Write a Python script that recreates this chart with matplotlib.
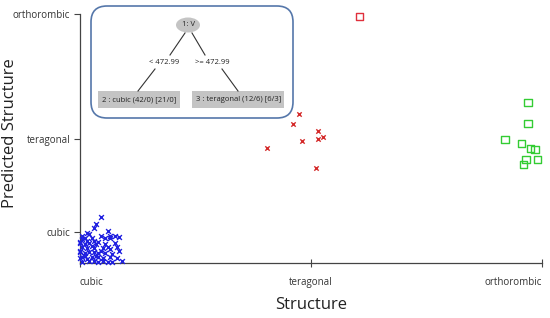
import matplotlib.pyplot as plt
from matplotlib.patches import FancyBboxPatch, Ellipse, Rectangle

plt.rcParams['font.family'] = ['Open Sans', 'DejaVu Sans']

# class positions on both axes
x_ticks = [0, 1, 2]
x_labels = ['cubic', 'teragonal', 'orthorombic']
y_ticks = [0.25, 1, 2]
y_labels = ['cubic', 'teragonal', 'orthorombic']

# cubic structures (predicted cubic)
cubic_x = [0.09, 0.07, 0.06, 0.12, 0.03, 0.01, 0.04, 0.09, 0.13, 0.15, 0.17, 0.11, 0.13,
           0.01, 0.03, 0.06, 0.08, 0.00, 0.04, 0.07, 0.11, 0.15, 0.01, 0.03, 0.06, 0.10,
           0.13, 0.17, 0.00, 0.04, 0.08, 0.11, 0.14, 0.02, 0.05, 0.08, 0.13, 0.16, 0.00,
           0.04, 0.06, 0.10, 0.12, 0.14, 0.18, 0.01, 0.08, 0.02, 0.00, 0.00, 0.02, 0.05,
           0.09, 0.03, 0.07, 0.10, 0.02, 0.05, 0.12, 0.01, 0.06, 0.16]
cubic_y = [0.37, 0.31, 0.28, 0.26, 0.24, 0.22, 0.23, 0.22, 0.22, 0.22, 0.21, 0.20, 0.20,
           0.19, 0.18, 0.18, 0.17, 0.16, 0.16, 0.15, 0.15, 0.16, 0.13, 0.12, 0.12, 0.12,
           0.11, 0.10, 0.09, 0.09, 0.08, 0.08, 0.07, 0.06, 0.05, 0.05, 0.05, 0.04, 0.04,
           0.02, 0.02, 0.02, 0.01, 0.01, 0.02, 0.01, 0.01, 0.08, 0.10, 0.17, 0.20, 0.14,
           0.10, 0.03, 0.06, 0.04, 0.15, 0.20, 0.13, 0.05, 0.09, 0.13]

# teragonal structures
tera_x = [0.95, 0.92, 1.03, 0.96, 1.03, 1.05, 0.81, 1.02]
tera_y = [1.20, 1.12, 1.06, 0.98, 1.00, 1.01, 0.92, 0.76]
tera_sq_x = [1.21]
tera_sq_y = [1.98]

# orthorombic structures
ortho_x = [1.94, 1.94, 1.84, 1.91, 1.95, 1.97, 1.98, 1.93, 1.92]
ortho_y = [1.29, 1.12, 0.99, 0.96, 0.92, 0.91, 0.83, 0.83, 0.79]

fig = plt.figure(figsize=(5.5, 3.18), dpi=100)
ax = fig.add_axes([80/550, 55/318, 462/550, 249/318])

ax.scatter(cubic_x, cubic_y, marker='x', s=12, color='#1f1fe0', linewidths=1.0, clip_on=False, zorder=3)
ax.scatter(tera_x, tera_y, marker='x', s=10, color='#d42a2a', linewidths=1.0, clip_on=False, zorder=3)
ax.scatter(tera_sq_x, tera_sq_y, marker='s', s=28, facecolors='none', edgecolors='#e0303c',
           linewidths=1.0, clip_on=False, zorder=3)
ax.scatter(ortho_x, ortho_y, marker='s', s=28, facecolors='none', edgecolors='#33cc33',
           linewidths=1.0, clip_on=False, zorder=3)

ax.set_xlim(0, 2)
ax.set_ylim(0, 2)
ax.set_xticks(x_ticks)
ax.set_xticklabels(x_labels, fontsize=7, color='#333333')
ax.set_yticks(y_ticks)
ax.set_yticklabels(y_labels, fontsize=7, color='#333333')
xt = ax.get_xticklabels()
xt[0].set_ha('left')
xt[-1].set_ha('right')
ax.tick_params(axis='x', direction='inout', length=6, width=0.8, color='#444444', pad=7)
ax.tick_params(axis='y', direction='out', length=4, width=0.8, color='#444444', pad=3)
for s in ['top', 'right']:
    ax.spines[s].set_visible(False)
for s in ['left', 'bottom']:
    ax.spines[s].set_color('#444444')
    ax.spines[s].set_linewidth(0.9)
ax.set_xlabel('Structure', fontsize=12, color='#222222')
ax.set_ylabel('Predicted Structure', fontsize=12, color='#222222')
ax.xaxis.set_label_coords(0.5, -0.135)
ax.yaxis.set_label_coords(-0.135, 0.52)

# decision tree inset, drawn in pixel coordinates
ov = fig.add_axes([0, 0, 1, 1], zorder=5)
ov.set_xlim(0, 550)
ov.set_ylim(318, 0)
ov.axis('off')
ov.patch.set_alpha(0)

box = FancyBboxPatch((91, 6), 202, 112, boxstyle='round,pad=0,rounding_size=16',
                     facecolor='white', edgecolor='#5577aa', linewidth=1.2)
ov.add_patch(box)
ov.add_patch(Ellipse((188, 25), 24, 15, facecolor='#c4c4c4', edgecolor='none'))
ov.text(188, 25, '1: V', ha='center', va='center', fontsize=5.5, color='#222222')
ov.plot([185, 170], [33, 55], color='#333333', lw=0.8)
ov.plot([192, 205], [33, 55], color='#333333', lw=0.8)
ov.text(164, 62, '< 472.99', ha='center', va='center', fontsize=5.5, color='#222222')
ov.text(212, 62, '>= 472.99', ha='center', va='center', fontsize=5.5, color='#222222')
ov.plot([155, 138], [69, 91], color='#333333', lw=0.8)
ov.plot([222, 238], [69, 91], color='#333333', lw=0.8)
ov.add_patch(Rectangle((98, 91), 82, 17, facecolor='#c4c4c4', edgecolor='none'))
ov.add_patch(Rectangle((192, 91), 92, 17, facecolor='#c4c4c4', edgecolor='none'))
ov.text(102, 99.5, '2 : cubic (42/0) [21/0]', ha='left', va='center', fontsize=5.5, color='#222222')
ov.text(196, 99.5, '3 : teragonal (12/6) [6/3]', ha='left', va='center', fontsize=5.5, color='#222222')

fig.savefig('out.png', dpi=100)
